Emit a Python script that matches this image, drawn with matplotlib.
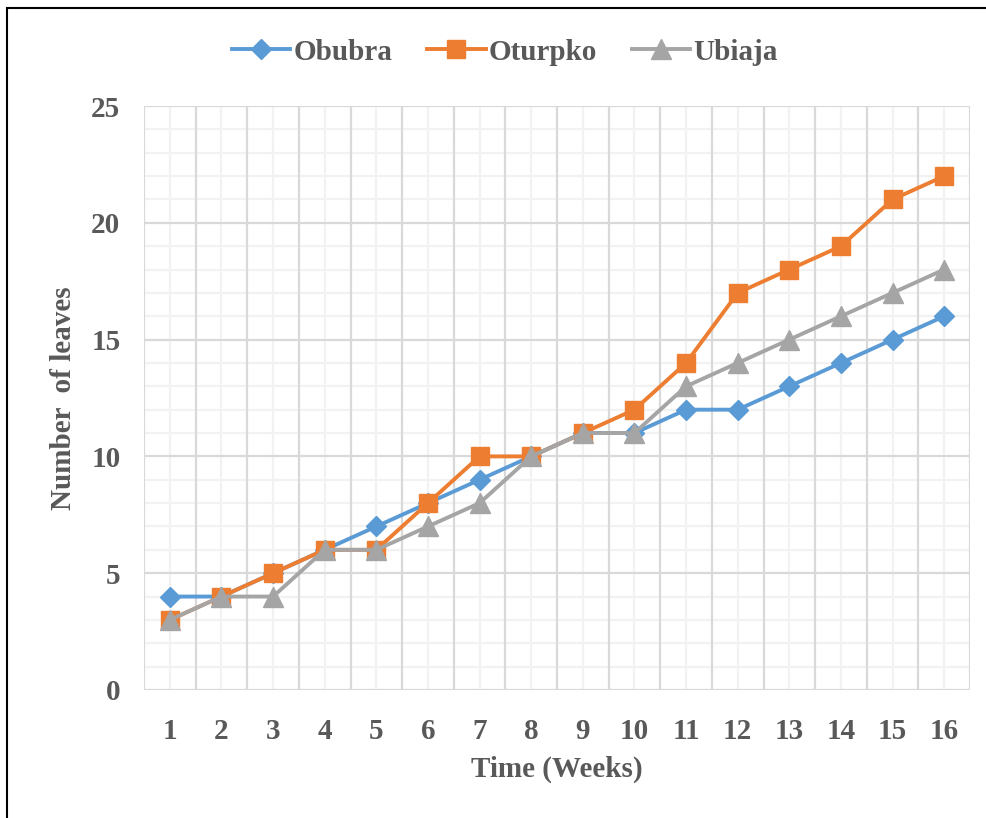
import matplotlib.pyplot as plt
from matplotlib.patches import Rectangle
from matplotlib.ticker import MultipleLocator

weeks = list(range(1, 17))
obubra = [4, 4, 5, 6, 7, 8, 9, 10, 11, 11, 12, 12, 13, 14, 15, 16]
oturpko = [3, 4, 5, 6, 6, 8, 10, 10, 11, 12, 14, 17, 18, 19, 21, 22]
ubiaja = [3, 4, 4, 6, 6, 7, 8, 10, 11, 11, 13, 14, 15, 16, 17, 18]

txt = '#595959'
plt.rcParams['font.family'] = 'Liberation Serif'
plt.rcParams['font.weight'] = 'bold'

fig = plt.figure(figsize=(9.87, 8.18), dpi=100)
ax = fig.add_axes([0.1459, 0.1565, 0.8369, 0.7139])

ax.plot(weeks, obubra, color='#5B9BD5', lw=2.8, marker='D', ms=10.5, label='Obubra', zorder=3)
ax.plot(weeks, oturpko, color='#ED7D31', lw=2.8, marker='s', ms=13, label='Oturpko', zorder=4)
ax.plot(weeks, ubiaja, color='#A5A5A5', lw=2.8, marker='^', ms=14, label='Ubiaja', zorder=5)

ax.set_xlim(0.5, 16.5)
ax.set_ylim(0, 25)
ax.set_xticks(weeks)
ax.yaxis.set_major_locator(MultipleLocator(5))

# category boundaries get the darker lines, centres the light ones
ax.grid(False)
for x in [w - 0.5 for w in weeks] + [16.5]:
    ax.axvline(x, color='#D9D9D9', lw=1.6, zorder=1)
for x in weeks:
    ax.axvline(x, color='#F2F2F2', lw=1.6, zorder=0.5)
for y in range(0, 26):
    if y % 5 == 0:
        ax.axhline(y, color='#D9D9D9', lw=1.6, zorder=1)
    else:
        ax.axhline(y, color='#F2F2F2', lw=1.6, zorder=0.5)

for s in ax.spines.values():
    s.set_visible(False)

ax.tick_params(which='both', length=0, labelsize=21, labelcolor=txt)
ax.tick_params(axis='x', pad=20)
ax.tick_params(axis='y', pad=17)

ax.set_xlabel('Time (Weeks)', fontsize=21, fontweight='bold', color=txt, labelpad=8)
ax.set_ylabel('Number  of leaves', fontsize=21, fontweight='bold', color=txt, labelpad=10)

ax.legend(loc='upper center', bbox_to_anchor=(0.5115, 0.985), bbox_transform=fig.transFigure,
          ncol=3, frameon=False, fontsize=21, handlelength=2.0, handletextpad=0.1,
          columnspacing=1.2, labelcolor=txt)

fig.patches.append(Rectangle((0.0075, -0.1), 1.2, 1.09, transform=fig.transFigure,
                             fill=False, edgecolor='black', lw=1.5))

fig.savefig('out.png', dpi=100)
